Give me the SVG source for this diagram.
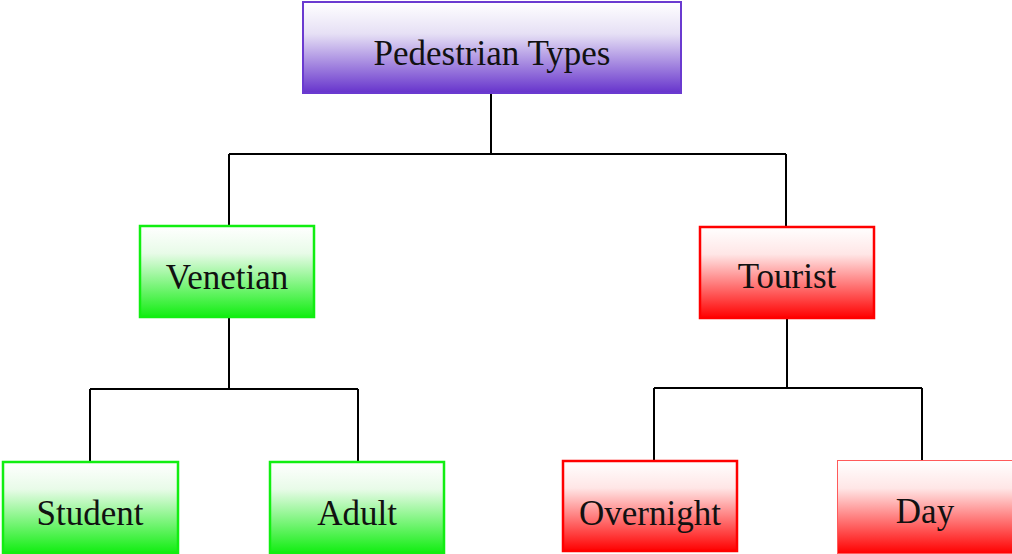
<svg xmlns="http://www.w3.org/2000/svg" width="1012" height="554" viewBox="0 0 1012 554">
<defs>
<linearGradient id="gPurple" x1="0" y1="0" x2="0" y2="1">
<stop offset="0" stop-color="#ffffff"/>
<stop offset="0.35" stop-color="#e6e0f5"/>
<stop offset="1" stop-color="#6633cc"/>
</linearGradient>
<linearGradient id="gGreen" x1="0" y1="0" x2="0" y2="1">
<stop offset="0" stop-color="#ffffff"/>
<stop offset="0.3" stop-color="#e8fbe8"/>
<stop offset="1" stop-color="#11ee11"/>
</linearGradient>
<linearGradient id="gRed" x1="0" y1="0" x2="0" y2="1">
<stop offset="0" stop-color="#ffffff"/>
<stop offset="0.3" stop-color="#ffe6e6"/>
<stop offset="1" stop-color="#ff0000"/>
</linearGradient>
</defs>
<style>
.lbl{font-family:"Liberation Serif","DejaVu Serif",serif;font-size:35px;fill:#111;text-anchor:middle}
.purple{fill:url(#gPurple);stroke:#6a3ad0;stroke-width:2}
.green{fill:url(#gGreen);stroke:#11ee11;stroke-width:2.5}
.red{fill:url(#gRed);stroke:#ff0000;stroke-width:2.5}
.redthin{fill:url(#gRed);stroke:#ff5a5a;stroke-width:1}
.conn{fill:none;stroke:#000;stroke-width:2}
</style>
<g id="connectors">
<path class="conn" d="M491,93 V154 M229,154 H786 M229,154 V226 M786,154 V227"/>
<path class="conn" d="M229,317 V389 M90,389 H358 M90,389 V462 M358,389 V462"/>
<path class="conn" d="M787,318 V388 M654,388 H922 M654,388 V461 M922,388 V460"/>
</g>
<g id="node-root">
<rect class="purple" x="303" y="2" width="378" height="91"/>
<text class="lbl" x="492" y="65">Pedestrian Types</text>
</g>
<g id="node-venetian">
<rect class="green" x="140" y="226" width="174" height="91"/>
<text class="lbl" x="227" y="289">Venetian</text>
</g>
<g id="node-tourist">
<rect class="red" x="700" y="227" width="174" height="91"/>
<text class="lbl" x="787" y="288">Tourist</text>
</g>
<g id="node-student">
<rect class="green" x="3" y="462" width="175" height="91"/>
<text class="lbl" x="90" y="525">Student</text>
</g>
<g id="node-adult">
<rect class="green" x="270" y="462" width="174" height="91"/>
<text class="lbl" x="357" y="525">Adult</text>
</g>
<g id="node-overnight">
<rect class="red" x="563" y="461" width="174" height="90"/>
<text class="lbl" x="650" y="525">Overnight</text>
</g>
<g id="node-day">
<rect class="redthin" x="837.5" y="460.5" width="180" height="93"/>
<text class="lbl" x="925" y="523">Day</text>
</g>
</svg>
